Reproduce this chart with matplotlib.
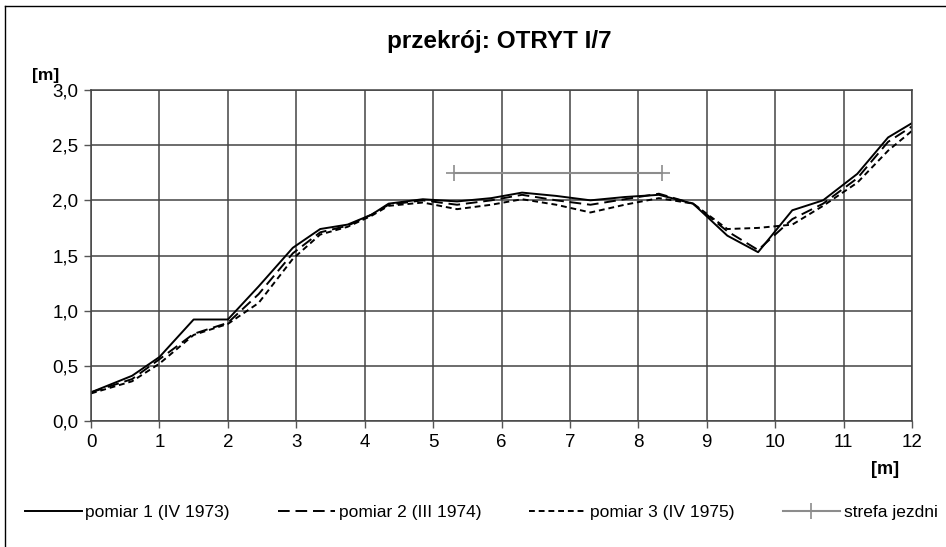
import matplotlib.pyplot as plt
from matplotlib.lines import Line2D

plt.rcParams['font.family'] = ['Liberation Sans', 'DejaVu Sans']

# odległość [m] i rzędne [m] dla trzech pomiarów
x_pts = [0, 0.6, 1.0, 1.5, 2.0, 2.45, 2.95, 3.35, 3.75, 4.1, 4.35, 4.85, 5.35, 5.85,
         6.3, 6.8, 7.3, 7.8, 8.3, 8.8, 9.3, 9.75, 10.25, 10.7, 11.2, 11.65, 12.0]
pomiar1 = [0.26, 0.41, 0.58, 0.92, 0.92, 1.22, 1.57, 1.74, 1.78, 1.87, 1.97, 2.01, 1.99, 2.02,
           2.07, 2.04, 2.00, 2.03, 2.05, 1.97, 1.68, 1.53, 1.91, 2.00, 2.24, 2.57, 2.70]
pomiar2 = [0.26, 0.38, 0.56, 0.79, 0.89, 1.15, 1.52, 1.71, 1.77, 1.87, 1.96, 2.00, 1.96, 2.00,
           2.05, 2.00, 1.96, 2.01, 2.06, 1.97, 1.72, 1.55, 1.83, 1.97, 2.20, 2.53, 2.67]
pomiar3 = [0.25, 0.36, 0.52, 0.78, 0.88, 1.07, 1.47, 1.69, 1.76, 1.86, 1.95, 1.98, 1.92, 1.96,
           2.01, 1.96, 1.89, 1.96, 2.02, 1.97, 1.74, 1.75, 1.78, 1.95, 2.16, 2.45, 2.63]

# strefa jezdni
jezdnia_x = [5.3, 8.35]
jezdnia_y = [2.25, 2.25]

x_ticks = list(range(0, 13))
y_ticks = [0.0, 0.5, 1.0, 1.5, 2.0, 2.5, 3.0]
y_labels = ['0,0', '0,5', '1,0', '1,5', '2,0', '2,5', '3,0']

fig = plt.figure(figsize=(9.46, 5.47), dpi=100)
ax = fig.add_axes([0.0962, 0.2303, 0.8679, 0.6052])

ax.plot(x_pts, pomiar1, color='black', lw=1.4, label='pomiar 1 (IV 1973)')
ax.plot(x_pts, pomiar2, color='black', lw=1.4, dashes=(6, 3), label='pomiar 2 (III 1974)')
ax.plot(x_pts, pomiar3, color='black', lw=1.4, dashes=(3, 2), label='pomiar 3 (IV 1975)')
ax.plot(jezdnia_x, jezdnia_y, color='#8c8c8c', lw=1.5, marker='+', markersize=11,
        markeredgewidth=1.2, label='strefa jezdni')

ax.set_xlim(0, 12)
ax.set_ylim(0, 3)
ax.set_xticks(x_ticks)
ax.set_yticks(y_ticks)
ax.set_yticklabels(y_labels)
ax.tick_params(labelsize=13.5, direction='out', length=5, width=1, color='#555555', pad=4)
ax.grid(True, color='#444444', lw=1.1)
ax.set_axisbelow(True)
for s in ax.spines.values():
    s.set_color('#444444')
    s.set_linewidth(1.1)

fig.text(0.528, 0.925, 'przekrój: OTRYT I/7', ha='center', va='center',
         fontsize=17.5, fontweight='bold')
fig.text(0.034, 0.862, '[m]', ha='left', va='center', fontsize=12.5, fontweight='bold')
fig.text(0.921, 0.141, '[m]', ha='left', va='center', fontsize=13, fontweight='bold')

fig.legend(loc='center', bbox_to_anchor=(0.026, 0.035, 0.965, 0.055), mode='expand',
           ncol=4, frameon=False, fontsize=12.5, handlelength=3.3, handletextpad=0.2,
           borderaxespad=0, borderpad=0)

# ramka wykresu
fig.add_artist(Line2D([5 / 946, 5 / 946], [0, 1 - 6 / 547], color='black', lw=1))
fig.add_artist(Line2D([5 / 946, 1], [1 - 6 / 547, 1 - 6 / 547], color='black', lw=1))

fig.savefig('out.png', dpi=100)
